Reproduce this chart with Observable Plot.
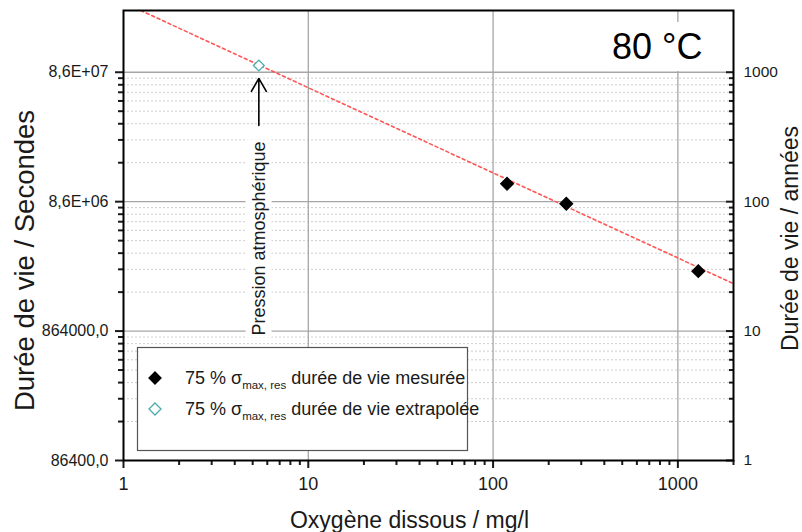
<!DOCTYPE html>
<html><head><meta charset="utf-8">
<script src="https://cdn.jsdelivr.net/npm/d3@7"></script>
<script src="https://cdn.jsdelivr.net/npm/@observablehq/plot@0.6"></script>
<style>
body{margin:0;background:#fff}
#chart{position:relative;width:802px;height:532px}
</style>
</head><body><div id="chart"></div>
<script>
// ---- data ----
const oxygenMeasured = [119, 249, 1290];            // mg/l
const lifeMeasured = [1.19e7, 8.32e6, 2.51e6];      // seconds
const oxygenExtrapolated = [5.4];
const lifeExtrapolated = [9.75e7];
const fitOxygen = [1.24, 2000];                     // dashed trend line ends
const fitLife = [2.59e8, 2.01e6];
const xTicks = [1, 10, 100, 1000];
const xTickLabels = ["1", "10", "100", "1000"];
const yTicks = [86400, 864000, 8640000, 86400000];
const yTickLabelsLeft = ["86400,0", "864000,0", "8,6E+06", "8,6E+07"];
const yTickLabelsRight = ["1", "10", "100", "1000"];
const xDomain = [1, 2000];
const yDomain = [86400, 2.592e8];
const annotation = {x: 5.4, yText: 7.99e5, yTail: 3.35e7, yHead: 7.74e7, label: "Pression atmosphérique"};
const tempLabel = "80 °C";
const xTitle = "Oxygène dissous / mg/l";
const yTitleLeft = "Durée de vie / Secondes";
const yTitleRight = "Durée de vie / années";
const legendItems = ["durée de vie mesurée", "durée de vie extrapolée"];

// minor tick positions (2..9 in each decade)
const mult = [2,3,4,5,6,7,8,9];
const xMinor = [1,10,100].flatMap(d => mult.map(m => d*m)).concat([2000]);
const yMinor = yTicks.slice(0,3).flatMap(d => mult.map(m => d*m));

const measured = oxygenMeasured.map((x,i) => ({x, y: lifeMeasured[i]}));
const extrap = oxygenExtrapolated.map((x,i) => ({x, y: lifeExtrapolated[i]}));
const fit = fitOxygen.map((x,i) => ({x, y: fitLife[i]}));
const yLabelRows = yTicks.map((y,i) => ({y, left: yTickLabelsLeft[i], right: yTickLabelsRight[i]}));
const xFmt = new Map(xTicks.map((t,i)=>[t, xTickLabels[i]]));

const FONT = "'Liberation Sans', Arial, sans-serif";
const ink = "#1a1a1a";
const blank = () => "";

const svg = Plot.plot({
  width: 802, height: 532,
  marginLeft: 123, marginRight: 69, marginTop: 10, marginBottom: 72,
  x: {type: "log", domain: xDomain},
  y: {type: "log", domain: yDomain},
  style: {fontFamily: FONT, background: "white", color: ink, overflow: "visible"},
  marks: [
    Plot.gridY(yMinor, {stroke: "#cfcfcf", strokeOpacity: 1, strokeDasharray: "2,2"}),
    Plot.gridY(yTicks.slice(1), {stroke: "#a6a6a6", strokeOpacity: 1, strokeWidth: 1.3}),
    Plot.gridX(xTicks.slice(1), {stroke: "#a6a6a6", strokeOpacity: 1, strokeWidth: 1.3}),
    Plot.line(fit, {x: "x", y: "y", stroke: "#f55", strokeWidth: 1.6, strokeDasharray: "3,3", clip: true}),
    Plot.dot(measured, {x: "x", y: "y", symbol: "square", rotate: 45, r: 5.2, fill: "black", stroke: "black", strokeWidth: 1}),
    Plot.dot(extrap, {x: "x", y: "y", symbol: "square", rotate: 45, r: 4.3, fill: "white", stroke: "#4aabab", strokeWidth: 1.3}),
    Plot.arrow([annotation], {x: "x", y1: "yTail", y2: "yHead", stroke: "black", strokeWidth: 1.6, headLength: 14, headAngle: 60}),
    Plot.text([annotation], {x: "x", y: "yText", text: "label", rotate: -90, textAnchor: "start", fontSize: 18, fill: ink}),
    Plot.text([tempLabel], {text: d => d, frameAnchor: "top-right", textAnchor: "end", lineAnchor: "top", dx: -31, dy: 23, fontSize: 36, fill: "black"}),
    // left axis
    Plot.axisY(yMinor, {anchor: "left", tickSize: 5, strokeWidth: 2, tickFormat: blank, label: null}),
    Plot.axisY(yTicks, {anchor: "left", tickSize: 8, strokeWidth: 2, tickFormat: blank, label: null}),
    Plot.text(yLabelRows, {y: "y", text: "left", frameAnchor: "left", textAnchor: "end", dx: -15, fontSize: 16, fill: ink}),
    // right axis (inward ticks)
    Plot.axisY(yMinor, {anchor: "right", tickSize: 5, dx: -5, strokeWidth: 2, tickFormat: blank, label: null}),
    Plot.axisY(yTicks, {anchor: "right", tickSize: 8, dx: -8, strokeWidth: 2, tickFormat: blank, label: null}),
    Plot.text(yLabelRows, {y: "y", text: "right", frameAnchor: "right", textAnchor: "start", dx: 10, fontSize: 15.5, fill: ink}),
    // bottom axis
    Plot.axisX(xMinor, {anchor: "bottom", tickSize: 5, strokeWidth: 2, tickFormat: blank, label: null}),
    Plot.axisX(xTicks, {anchor: "bottom", tickSize: 8, tickPadding: 9, strokeWidth: 2, fontSize: 18, tickFormat: d => xFmt.get(d), label: null}),
    Plot.frame({stroke: "black", strokeWidth: 2}),
    // titles
    Plot.text([xTitle], {text: d => d, frameAnchor: "bottom", textAnchor: "middle", dx: -19, dy: 67, fontSize: 23, fill: ink}),
    Plot.text([yTitleLeft], {text: d => d, frameAnchor: "left", textAnchor: "middle", rotate: -90, dx: -98, dy: 25, fontSize: 27.5, fill: ink}),
    Plot.text([yTitleRight], {text: d => d, frameAnchor: "right", textAnchor: "middle", rotate: -90, dx: 57, dy: 3, fontSize: 23, fill: ink})
  ]
});
document.getElementById("chart").appendChild(svg);

// white backgrounds behind the in-plot labels (inserted below the data marks)
const root = d3.select(svg);
const svgBox = svg.getBoundingClientRect();
const lineG = svg.querySelector('g[aria-label="line"]');
function backdrop(textContent, px, py) {
  const t = Array.from(svg.querySelectorAll("text")).find(n => n.textContent === textContent);
  if (!t || !lineG) return;
  const b = t.getBoundingClientRect();
  const r = document.createElementNS("http://www.w3.org/2000/svg", "rect");
  r.setAttribute("x", b.left - svgBox.left - px);
  r.setAttribute("y", b.top - svgBox.top - py);
  r.setAttribute("width", b.width + 2*px);
  r.setAttribute("height", b.height + 2*py);
  r.setAttribute("fill", "white");
  lineG.parentNode.insertBefore(r, lineG);
}
backdrop(tempLabel, 3, 4);
backdrop(annotation.label, 3, 2);

// legend
const lg = root.append("g").attr("font-family", FONT).attr("fill", ink).attr("text-anchor", "start");
lg.append("rect").attr("x", 137.5).attr("y", 347.5).attr("width", 330).attr("height", 103)
  .attr("fill", "white").attr("stroke", "#555").attr("stroke-width", 1.2);
const rows = [{y: 378, fill: "black", stroke: "black"}, {y: 409, fill: "white", stroke: "#4aabab"}];
rows.forEach((row, i) => {
  const cx = 155, s = 6;
  lg.append("path").attr("d", `M${cx},${row.y-s}L${cx+s},${row.y}L${cx},${row.y+s}L${cx-s},${row.y}Z`)
    .attr("fill", row.fill).attr("stroke", row.stroke).attr("stroke-width", 1.3);
  const t = lg.append("text").attr("x", 185).attr("y", row.y + 6).attr("font-size", 18).attr("text-anchor", "start");
  t.append("tspan").text("75 % σ");
  t.append("tspan").attr("font-size", 11.5).attr("dy", 5).text("max, res");
  t.append("tspan").attr("dy", -5).text(" " + legendItems[i]);
});
</script>
</body></html>
